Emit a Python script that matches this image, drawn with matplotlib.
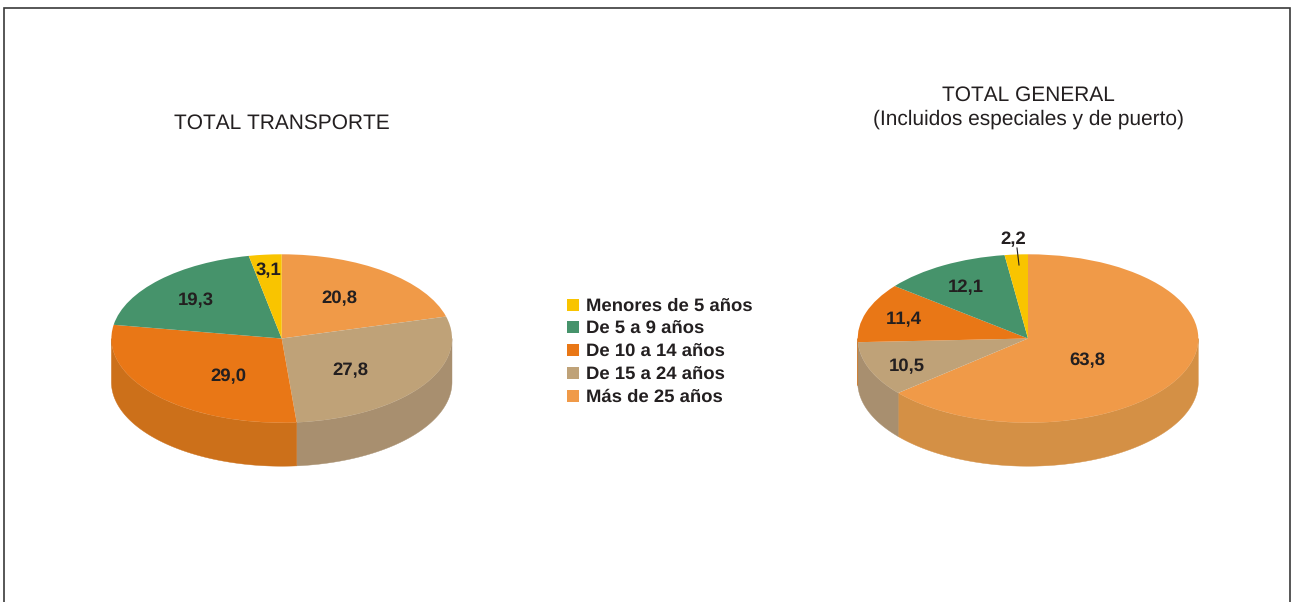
import numpy as np
import matplotlib
matplotlib.use("Agg")
import matplotlib.pyplot as plt
from matplotlib.patches import Rectangle

plt.rcParams['font.family'] = ['Liberation Sans', 'DejaVu Sans']
plt.rcParams['text.hinting'] = 'no_hinting'
plt.rcParams['text.kerning_factor'] = 6

categories = ["Más de 25 años", "De 15 a 24 años", "De 10 a 14 años", "De 5 a 9 años", "Menores de 5 años"]
transporte = [20.8, 27.8, 29.0, 19.3, 3.1]
general = [63.8, 10.5, 11.4, 12.1, 2.2]
top_colors = ["#F09A48", "#BFA278", "#E97716", "#46936B", "#F9C400"]
side_colors = ["#D49045", "#A88F6F", "#CC701A", "#3A7A59", "#CFA300"]

W, H = 1291, 602
RX, RY, DEPTH = 170.3, 84.2, 43.5
TEXT = "#231F20"

fig = plt.figure(figsize=(W / 100, H / 100), dpi=100, facecolor="white")


def pie3d(values, cx, cy):
    left = (cx - RX) / W
    bottom = 1 - (cy + RY + DEPTH) / H
    ax = fig.add_axes([left, bottom, 2 * RX / W, (2 * RY + DEPTH) / H])
    wedges, _ = ax.pie(values, colors=top_colors, startangle=90, counterclock=False,
                       radius=1, wedgeprops=dict(linewidth=0, zorder=3), normalize=True)
    d = DEPTH / RY
    ax.set_aspect("auto")
    ax.set_xlim(-1, 1)
    ax.set_ylim(-1 - d, 1)
    total = sum(values)
    start = 90.0
    for v, col in zip(values, side_colors):
        end = start - 360.0 * v / total
        # clockwise range [end, start]; the visible wall lies in the lower half
        for shift in (0, -360):
            l, h = max(end + shift, -180), min(start + shift, 0)
            if h > l:
                t = np.radians(np.linspace(l, h, 120))
                xs = np.cos(t)
                ys = np.sin(t)
                ax.fill(np.r_[xs, xs[::-1]], np.r_[ys, ys[::-1] - d],
                        color=col, lw=0.3, zorder=2, clip_on=False)
        start = end
    for s in ax.spines.values():
        s.set_visible(False)
    ax.patch.set_alpha(0)
    return ax, wedges


ax1, wedges1 = pie3d(transporte, 281.7, 338.5)
ax2, wedges2 = pie3d(general, 1028.0, 338.5)

ov = fig.add_axes([0, 0, 1, 1], zorder=5)
ov.set_xlim(0, W)
ov.set_ylim(H, 0)
ov.axis("off")
ov.patch.set_alpha(0)

# open frame
ov.plot([4, 4, 1289.5, 1289.5], [H, 8, 8, H], color="#3A3A3A", lw=1.2, solid_joinstyle="miter")

# titles
ov.text(282, 123, "TOTAL TRANSPORTE", ha="center", va="center", fontsize=15.05, color=TEXT)
ov.text(1028, 95, "TOTAL GENERAL", ha="center", va="center", fontsize=15.05, color=TEXT)
ov.text(1028, 119.5, "(Incluidos especiales y de puerto)", ha="center", va="center", fontsize=15.05, color=TEXT)

# value labels
pos1 = [(339, 299), (350, 371), (228, 377), (196, 301), (268, 271)]
pos2 = [(1087, 361), (907, 367), (904, 320), (966, 288), (1013, 240)]
for vals, pos in ((transporte, pos1), (general, pos2)):
    for v, (x, y) in zip(vals, pos):
        ov.text(x, y, f"{v:.1f}".replace(".", ","), ha="center", va="center",
                fontsize=13.3, fontweight="bold", color=TEXT)
ov.plot([1017, 1019], [248, 265], color=TEXT, lw=0.8)

# legend
for i, (cat, col) in enumerate(zip(categories[::-1], top_colors[::-1])):
    y = 304.5 + 22.9 * i
    ov.add_patch(Rectangle((567, y - 6), 12, 12, facecolor=col, edgecolor="none"))
    ov.text(586, y + 1.5, cat, ha="left", va="center", fontsize=13.3, fontweight="bold", color=TEXT)

fig.savefig("out.png", dpi=100)
